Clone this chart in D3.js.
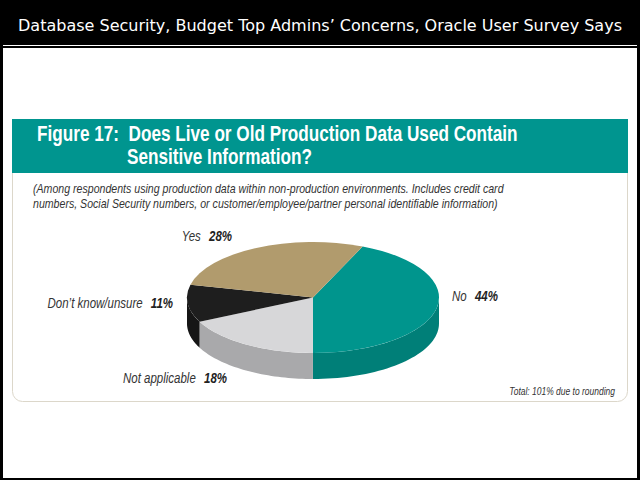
<!DOCTYPE html>
<html>
<head>
<meta charset="utf-8">
<script src="https://cdn.jsdelivr.net/npm/d3@7"></script>
<style>
  body { margin: 0; background: #fff; }
  svg { display: block; }
  .narrow { font-family: 'Liberation Sans', Arial, sans-serif; }
</style>
</head>
<body>
<div id="chart"></div>
<script>
// chart data
var categories = ["No", "Not applicable", "Don\u2019t know/unsure", "Yes"];
var values = [44, 18, 11, 28];
var topColors = ["#00958d", "#d7d7d9", "#1e1e1e", "#b19b6d"];
var sideColors = ["#007f78", "#a9a9ab", "#161616", "#8f7c55"];

var pageTitle = "Database Security, Budget Top Admins\u2019 Concerns, Oracle User Survey Says";
var figTitle = ["Figure 17:  Does Live or Old Production Data Used Contain", "Sensitive Information?"];
var subTitle = ["(Among respondents using production data within non-production environments. Includes credit card",
                "numbers, Social Security numbers, or customer/employee/partner personal identifiable information)"];
var note = "Total: 101% due to rounding";

var W = 640, H = 480;
var svg = d3.select("#chart").append("svg")
    .attr("width", W)
    .attr("height", H);

// no condensed font installed, so squeeze text with a horizontal scale
function squeeze(sel, k, px, py) {
    sel.attr("transform", function(d, i) {
        return "translate(" + px(d, i) + "," + py(d, i) + ") scale(" + k + ",1)";
    });
}
function fitK(node, target) { return target / node.getBBox().width; }

// black frame + header
svg.append("rect").attr("width", W).attr("height", H).attr("fill", "#000");
svg.append("rect").attr("x", 3).attr("y", 45).attr("width", 634).attr("height", 1).attr("fill", "#fff");
svg.append("rect").attr("x", 3).attr("y", 48).attr("width", 634).attr("height", 430).attr("fill", "#fff");

svg.append("text")
    .attr("x", 320).attr("y", 31)
    .attr("text-anchor", "middle")
    .attr("textLength", 604).attr("lengthAdjust", "spacingAndGlyphs")
    .style("font-family", "'DejaVu Sans', Verdana, sans-serif")
    .style("font-size", "16px")
    .attr("fill", "#fff")
    .text(pageTitle);

// panel
svg.append("rect")
    .attr("x", 12.5).attr("y", 140.5).attr("width", 615).attr("height", 261)
    .attr("rx", 10).attr("ry", 10)
    .attr("fill", "#fff").attr("stroke", "#dcd7ca").attr("stroke-width", 1);
svg.append("rect")
    .attr("x", 12).attr("y", 119).attr("width", 616).attr("height", 54)
    .attr("fill", "#00958f");

var figText = svg.selectAll("text.fig")
    .data(figTitle)
    .enter().append("text")
    .attr("class", "fig narrow")
    .style("font-size", "22px")
    .style("font-weight", "bold")
    .style("white-space", "pre")
    .attr("fill", "#fff")
    .text(function(d) { return d; });
squeeze(figText, fitK(figText.node(), 481),
    function(d, i) { return i == 0 ? 37 : 127; },
    function(d, i) { return 141 + i * 23; });

var subText = svg.selectAll("text.sub")
    .data(subTitle)
    .enter().append("text")
    .attr("class", "sub narrow")
    .style("font-size", "12.5px")
    .style("font-style", "italic")
    .attr("fill", "#333")
    .text(function(d) { return d; });
squeeze(subText, fitK(subText.node(), 472),
    function() { return 33; },
    function(d, i) { return 193 + i * 15; });

// 3d pie
var cx = 313, cy = 297.5, rx = 126, ry = 55.5, depth = 26;
var start = 23.2 * Math.PI / 180;

var pie = d3.pie().sort(null)
    .startAngle(start).endAngle(start + 2 * Math.PI)
    .value(function(d) { return d.value; });

var slices = pie(categories.map(function(c, i) { return {name: c, value: values[i], i: i}; }));

function pt(a, dy) { return [cx + rx * Math.sin(a), cy - ry * Math.cos(a) + (dy || 0)]; }
var line = d3.line();

// visible side: angles between 90 and 270 degrees
var sides = slices.map(function(s) {
    var out = [];
    [0, -2 * Math.PI].forEach(function(off) {
        var a0 = Math.max(s.startAngle + off, Math.PI / 2);
        var a1 = Math.min(s.endAngle + off, 3 * Math.PI / 2);
        if (a1 > a0) out.push({a0: a0, a1: a1, i: s.data.i});
    });
    return out;
}).reduce(function(a, b) { return a.concat(b); }, []);

var pieG = svg.append("g");

pieG.selectAll("path.side")
    .data(sides)
    .enter().append("path")
    .attr("class", "side")
    .attr("fill", function(d) { return sideColors[d.i]; })
    .attr("d", function(d) {
        var ang = d3.range(0, 41).map(function(k) { return d.a0 + (d.a1 - d.a0) * k / 40; });
        var pts = ang.map(function(a) { return pt(a); })
            .concat(ang.slice().reverse().map(function(a) { return pt(a, depth); }));
        return line(pts) + "Z";
    });

var arc = d3.arc().innerRadius(0).outerRadius(rx);
pieG.selectAll("path.top")
    .data(slices)
    .enter().append("path")
    .attr("class", "top")
    .attr("transform", "translate(" + cx + "," + cy + ") scale(1," + (ry / rx) + ")")
    .attr("fill", function(d) { return topColors[d.data.i]; })
    .attr("d", arc);

// labels
var labelPos = {
    "No": {x: 452, y: 301, anchor: "start"},
    "Not applicable": {x: 227, y: 383, anchor: "end"},
    "Don\u2019t know/unsure": {x: 173, y: 308, anchor: "end"},
    "Yes": {x: 232, y: 241, anchor: "end"}
};

var labels = svg.selectAll("text.lbl")
    .data(slices)
    .enter().append("text")
    .attr("class", "lbl narrow")
    .attr("text-anchor", function(d) { return labelPos[d.data.name].anchor; })
    .style("font-size", "14px")
    .style("font-style", "italic")
    .attr("fill", "#333");
labels.append("tspan").text(function(d) { return d.data.name; });
labels.append("tspan")
    .attr("dx", 10)
    .style("font-weight", "bold")
    .attr("fill", "#222")
    .text(function(d) { return d.data.value + "%"; });
var dkNode = labels.filter(function(d) { return d.data.i == 2; }).node();
squeeze(labels, fitK(dkNode, 126),
    function(d) { return labelPos[d.data.name].x; },
    function(d) { return labelPos[d.data.name].y; });

var noteText = svg.append("text")
    .attr("class", "narrow")
    .attr("text-anchor", "end")
    .style("font-size", "10.5px")
    .style("font-style", "italic")
    .attr("fill", "#333")
    .text(note);
squeeze(noteText, fitK(noteText.node(), 106),
    function() { return 615; }, function() { return 395; });
</script>
</body>
</html>
